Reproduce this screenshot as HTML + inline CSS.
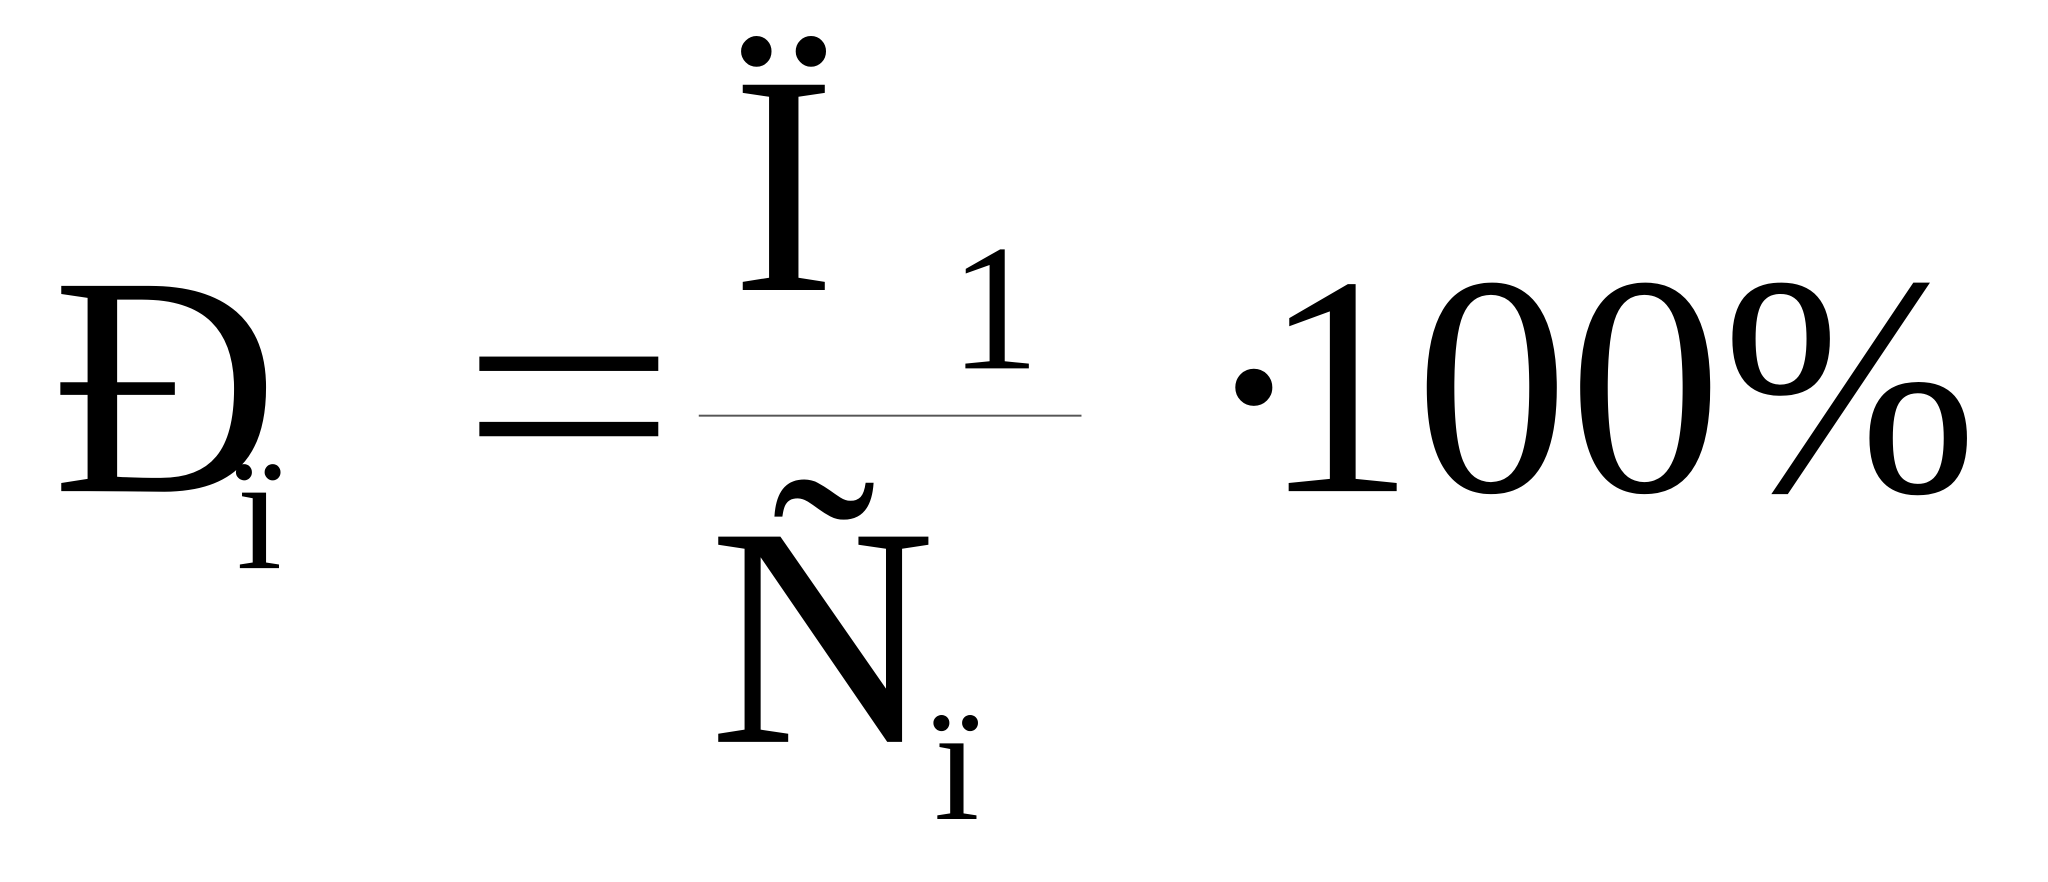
<!DOCTYPE html>
<html><head><meta charset="utf-8"><style>html,body{margin:0;padding:0;background:#fff;width:2048px;height:882px;overflow:hidden}svg{display:block}</style></head>
<body>
<svg width="2048" height="882" viewBox="0 0 1568 675.28" preserveAspectRatio="none" xmlns="http://www.w3.org/2000/svg" font-family="'Liberation Serif', serif" fill="#000">
<text x="40" y="376" font-size="240">Ð</text>
<text x="181" y="435" font-size="126">ï</text>
<rect x="367" y="273" width="137" height="11"/>
<rect x="367" y="323" width="137" height="11"/>
<text x="560" y="222" font-size="240">Ï</text>
<text x="727" y="282" font-size="138">1</text>
<rect x="535" y="317.5" width="293" height="1.5" fill="#555"/>
<text x="543" y="568" font-size="240">Ñ</text>
<text x="715" y="627" font-size="126">ï</text>
<text x="920" y="376" font-size="240">·</text>
<text x="966" y="376" font-size="240" textLength="548" lengthAdjust="spacingAndGlyphs">100%</text>
</svg>
</body></html>
